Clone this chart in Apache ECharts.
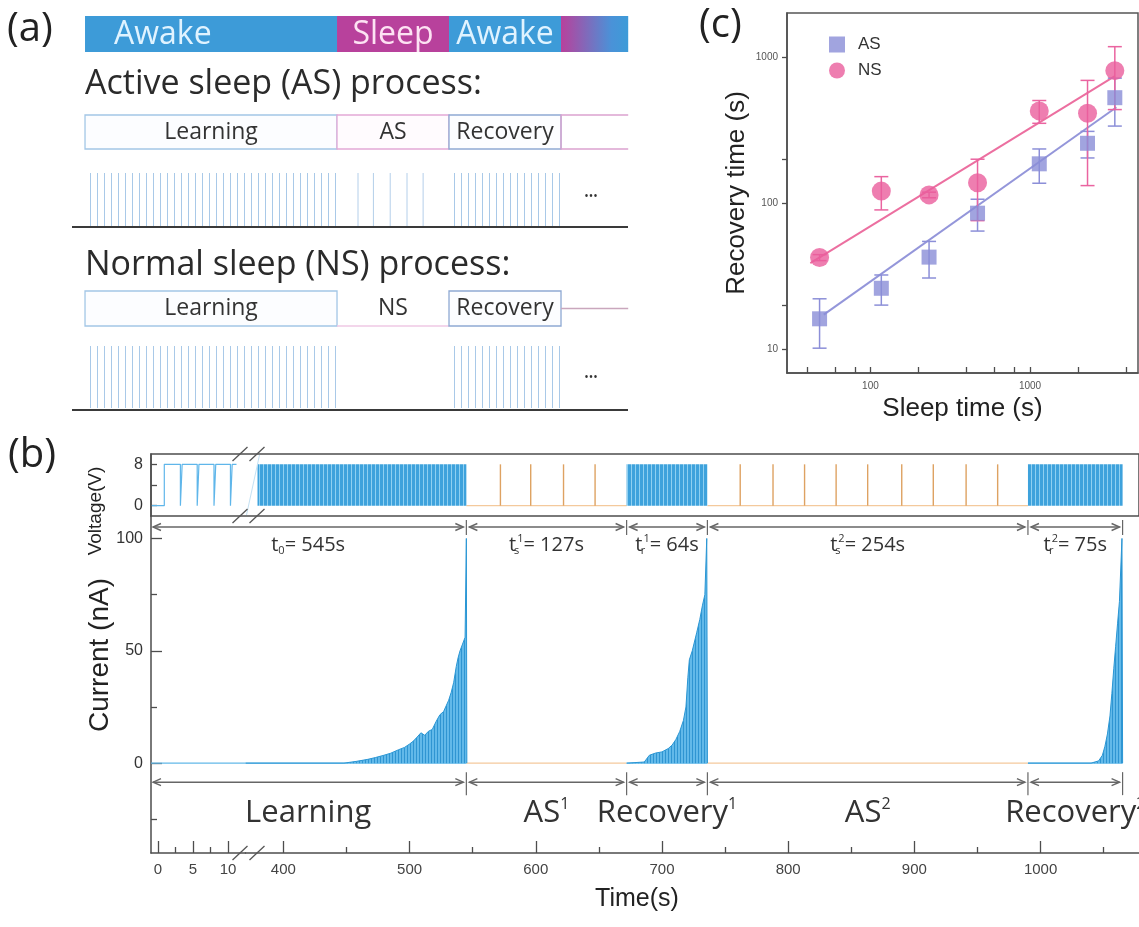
<!DOCTYPE html>
<html>
<head>
<meta charset="utf-8">
<title>Active sleep and recovery</title>
<script src="https://cdn.jsdelivr.net/npm/echarts@6.0.0/dist/echarts.min.js"></script>
<style>
  html, body { margin: 0; padding: 0; background: #ffffff; }
  #chart { width: 1139px; height: 927px; }
</style>
</head>
<body>
<div id="chart"></div>
<script>
// ---------- (a) schematic: phases measured in training-pulse periods ----------
const schemePhaseEdges = [0, 36, 52, 68, 77.6];
const schemeStates = ['Awake', 'Sleep', 'Awake', ''];
const asRowLabels = ['Learning', 'AS', 'Recovery', ''];
const nsRowLabels = ['Learning', 'NS', 'Recovery', ''];
const asRowSleepPulses = [39, 41.2, 43.6, 46, 48.3];

// ---------- (b) pulse protocol and device current ----------
const phaseBounds = [0, 545, 672, 736, 990, 1065];            // s
const phaseNames = ['Learning', 'AS', 'Recovery', 'AS', 'Recovery'];
const phaseOrder = ['', '1', '1', '2', '2'];
const phaseDurationSub = ['0', 's', 'r', 's', 'r'];
const phaseIsSleep = [false, true, false, true, false];
const earlyPulses = [[0.9, 3.2], [3.45, 5.6], [5.85, 8.0], [8.25, 10.35], [10.6, 12.5]]; // on, off (s)
const pulseVoltage = 8;                                          // V
const sleepSpikes = [572, 596, 622, 647, 762, 788, 813, 838, 863, 890, 915, 941, 966];
const learningCurrent = [
  [370, 0], [448, 0], [458, 0.8], [467, 1.7], [473, 2.5], [479, 3.4], [485, 4.4], [491, 5.9],
  [496, 7.0], [500, 8.5], [503, 9.8], [506, 11.6], [509, 13.5], [512, 12.4], [515, 14.2],
  [518, 15.0], [521, 18.5], [524, 21.5], [527, 23.0], [529, 25.5], [531, 28.0], [533, 31.5],
  [535, 36.0], [537, 43.0], [538.5, 47.0], [540, 50.0], [542, 53.0], [544, 56.0], [545, 100], [545.4, 0]
];
const recovery1Current = [
  [672, 0], [686, 0.5], [690, 3.5], [695, 4.5], [700, 5.0], [705, 6.5], [708, 8.0], [711, 10.5],
  [714, 14.0], [717, 19.0], [719, 25.0], [720.5, 38.0], [721.7, 46.0], [724, 50.0], [727.5, 58.0],
  [730, 64.0], [732, 70.0], [734, 75.0], [735.5, 100], [736, 0]
];
const recovery2Current = [
  [990, 0], [1040, 0], [1046, 1.0], [1049, 3.5], [1051, 7.5], [1053, 13.0], [1055, 21.0],
  [1056.5, 31.0], [1058, 42.0], [1059.5, 52.0], [1061, 62.0], [1062.5, 72.0], [1064.5, 100], [1065, 0]
];
const earlyTimeTicks = [0, 5, 10];
const earlyTimeMinor = [2.5, 7.5];
const timeTicks = [400, 500, 600, 700, 800, 900, 1000];
const timeMinor = [450, 550, 650, 750, 850, 950, 1050];
const voltageTicks = [0, 4, 8];
const voltageLabels = [0, 8];
const currentTicks = [-25, 0, 25, 50, 75, 100];
const currentLabels = [0, 50, 100];

// ---------- (c) recovery time versus sleep time ----------
const sleepTime = [48, 117, 233, 469, 1143, 2293, 3400];
const recoveryAS = [16.2, 26.2, 42.8, 85.5, 186, 257, 527];
const errorAS = [6, 6.1, 12, 21, 49, 53, 190];
const recoveryNS = [42.5, 121, 114, 138, 428, 412, 807];
const errorNS = [2, 31, 5, 62, 76, 280, 370];
const fitAS = [[51, 17.3], [3480, 453]];
const fitNS = [[42, 38.9], [3400, 741]];
const logTicksX = [40, 60, 80, 100, 200, 400, 600, 800, 1000, 2000, 4000];
const logLabelsX = [100, 1000];
const logTicksY = [10, 20, 100, 200, 1000];
const logLabelsY = [10, 100, 1000];

// ---------- layout and style ----------
const SANS = '"Open Sans", "Noto Sans", "DejaVu Sans", sans-serif';
const ARIAL = '"Liberation Sans", Arial, Helvetica, sans-serif';
const AXIS_COLOR = '#4d4d4d';
const TRAIN_BLUE = '#3ea2dc';
const SLEEP_ORANGE = '#dea262';
const LAYOUT = { axisLeft: 151, split: 245.5, voltTop: 454, voltHeight: 62, curTop: 516, curHeight: 337 };
const EARLY_RANGE = [-1, 12.5];
const MAIN_RANGE = [370, 1078];
const VOLT_RANGE = [-2, 10];
const CURRENT_RANGE = [-40, 110];
const SCHEME = { bar: [16, 52], asBox: [115, 149], asPulse: [173, 226], asBase: 227,
                 nsBox: [291, 326], nsPulse: [346, 408], nsBase: 410 };

function stripePattern(w, h, base, stripe, stripeW) {
  const c = document.createElement('canvas');
  c.width = w; c.height = h;
  const g = c.getContext('2d');
  if (base) { g.fillStyle = base; g.fillRect(0, 0, w, h); }
  g.fillStyle = stripe;
  g.fillRect(w - stripeW, 0, stripeW, h);
  return c;
}
const trainFill = { image: stripePattern(4, 2, TRAIN_BLUE, '#8fd0f1', 1), repeat: 'repeat' };
const schemePulseFill = { image: stripePattern(7, 2, null, '#a9c9e8', 1), repeat: 'repeat' };
const currentFill = { image: stripePattern(3, 2, '#62b9e9', '#2f95d2', 1), repeat: 'repeat' };

const chart = echarts.init(document.getElementById('chart'), null, { renderer: 'canvas' });

// derived phase tables
const allPhases = phaseNames.map((n, i) => [phaseBounds[i], phaseBounds[i + 1], phaseIsSleep[i] ? 1 : 0]);
const trainPhases = allPhases.filter(p => !p[2]);
const earlyVoltage = (() => {
  const pts = [[EARLY_RANGE[0], 0]];
  earlyPulses.forEach(([on, off]) => { pts.push([on, 0], [on, pulseVoltage], [off, pulseVoltage], [off, 0]); });
  return pts;
})();
const schemePhases = schemeStates.map((s, i) => [schemePhaseEdges[i], schemePhaseEdges[i + 1], i]);

// ---------- render helpers ----------
function clipX(cs, a, b) {
  return [Math.max(a, cs.x), Math.min(b, cs.x + cs.width)];
}
function renderTrainBlock(params, api) {
  const cs = params.coordSys;
  const a = api.coord([api.value(0), pulseVoltage]);
  const b = api.coord([api.value(1), 0]);
  const [x0, x1] = clipX(cs, a[0], b[0]);
  if (x1 <= x0) return null;
  return { type: 'rect', shape: { x: x0, y: a[1], width: x1 - x0, height: b[1] - a[1] }, style: { fill: trainFill } };
}
function renderSpike(params, api) {
  const a = api.coord([api.value(0), 0]);
  const b = api.coord([api.value(0), api.value(1)]);
  return { type: 'line', shape: { x1: a[0], y1: a[1], x2: b[0], y2: b[1] }, style: { stroke: SLEEP_ORANGE, lineWidth: 1.4 } };
}
function baselineRenderer(trainColor, sleepColor, onlySleep) {
  return function (params, api) {
    const cs = params.coordSys;
    const sleep = api.value(2) === 1;
    if (onlySleep && !sleep) return null;
    const a = api.coord([api.value(0), 0]);
    const b = api.coord([api.value(1), 0]);
    const [x0, x1] = clipX(cs, a[0], b[0]);
    if (x1 <= x0) return null;
    return { type: 'line', shape: { x1: x0, y1: a[1], x2: x1, y2: a[1] },
             style: { stroke: sleep ? sleepColor : trainColor, lineWidth: 1.3 } };
  };
}
function renderErrorBar(params, api) {
  const x = api.value(0);
  const lo = api.coord([x, api.value(1)]);
  const hi = api.coord([x, api.value(2)]);
  const cap = 7;
  const style = { stroke: api.visual('color'), lineWidth: 1.5 };
  return { type: 'group', children: [
    { type: 'line', shape: { x1: lo[0], y1: lo[1], x2: hi[0], y2: hi[1] }, style },
    { type: 'line', shape: { x1: lo[0] - cap, y1: lo[1], x2: lo[0] + cap, y2: lo[1] }, style },
    { type: 'line', shape: { x1: hi[0] - cap, y1: hi[1], x2: hi[0] + cap, y2: hi[1] }, style }
  ] };
}
function renderStateBar(params, api) {
  const i = api.value(2);
  const p0 = api.coord([api.value(0), SCHEME.bar[0]]);
  const p1 = api.coord([api.value(1), SCHEME.bar[1]]);
  const shape = { x: p0[0], y: p0[1], width: p1[0] - p0[0], height: p1[1] - p0[1] };
  const state = schemeStates[i];
  let fill;
  if (state === 'Awake') fill = '#3d9bd8';
  else if (state === 'Sleep') fill = '#b8419c';
  else fill = new echarts.graphic.LinearGradient(0, 0, 1, 0, [
    { offset: 0, color: '#b8419c' }, { offset: 0.75, color: '#4a92d8' }, { offset: 1, color: '#3d9bd8' }]);
  const children = [{ type: 'rect', shape, style: { fill } }];
  if (state) {
    children.push({ type: 'text', style: {
      text: state, x: i === 0 ? shape.x + 29 : shape.x + shape.width / 2, y: shape.y + shape.height / 2 + 1,
      align: i === 0 ? 'left' : 'center', verticalAlign: 'middle',
      fill: state === 'Sleep' ? '#fde2f3' : '#e0f3ff', fontSize: 32, fontFamily: SANS } });
  }
  return { type: 'group', children };
}
function rowRenderer(box, pulse, base, labels, isAS) {
  return function (params, api) {
    const i = api.value(2);
    const cs = params.coordSys;
    const p0 = api.coord([api.value(0), box[0]]);
    const p1 = api.coord([api.value(1), box[1]]);
    const r = { x: p0[0], y: p0[1], width: p1[0] - p0[0], height: p1[1] - p0[1] };
    const q0 = api.coord([api.value(0), pulse[0]]);
    const q1 = api.coord([api.value(1), pulse[1]]);
    const children = [];
    if (i === 0 || i === 2) {
      children.push({ type: 'rect', shape: r, style: { fill: '#fcfdff', stroke: i === 0 ? '#a3c6e6' : '#8ea9d3', lineWidth: 1.3 } });
      children.push({ type: 'rect', shape: { x: q0[0] + 2, y: q0[1], width: q1[0] - q0[0] - 2, height: q1[1] - q0[1] },
                      style: { fill: schemePulseFill } });
    } else if (i === 1) {
      if (isAS) {
        children.push({ type: 'rect', shape: r, style: { fill: '#fffbfe', stroke: '#e3a9d6', lineWidth: 1.3 } });
        asRowSleepPulses.forEach(u => {
          const a = api.coord([u, pulse[0]]), b = api.coord([u, pulse[1]]);
          children.push({ type: 'line', shape: { x1: a[0], y1: a[1], x2: b[0], y2: b[1] }, style: { stroke: '#b4cfea', lineWidth: 1 } });
        });
      } else {
        children.push({ type: 'line', shape: { x1: r.x, y1: r.y + r.height, x2: r.x + r.width, y2: r.y + r.height },
                        style: { stroke: '#efc9e4', lineWidth: 1.3 } });
      }
    } else {
      if (isAS) {
        children.push({ type: 'polyline', shape: { points: [[r.x + r.width, r.y], [r.x, r.y], [r.x, r.y + r.height], [r.x + r.width, r.y + r.height]] },
                        style: { fill: 'none', stroke: '#dca2cf', lineWidth: 1.3 } });
      } else {
        const ym = r.y + r.height / 2;
        children.push({ type: 'line', shape: { x1: r.x, y1: ym, x2: r.x + r.width, y2: ym }, style: { stroke: '#c9a7bd', lineWidth: 1.3 } });
      }
    }
    if (labels[i]) {
      children.push({ type: 'text', style: { text: labels[i], x: r.x + r.width / 2, y: r.y + r.height / 2,
        align: 'center', verticalAlign: 'middle', fill: '#333', fontSize: 23, fontFamily: SANS } });
    }
    if (i === 0) {
      const yb = api.coord([0, base])[1];
      children.push({ type: 'line', shape: { x1: cs.x, y1: yb, x2: cs.x + cs.width, y2: yb }, style: { stroke: '#3a3a3a', lineWidth: 2 } });
    }
    return { type: 'group', children };
  };
}
function currentTrace(data) {
  return { type: 'line', xAxisIndex: 3, yAxisIndex: 3, data, symbol: 'none', z: 4, silent: true,
           lineStyle: { color: '#2a96d4', width: 1 }, areaStyle: { color: currentFill, opacity: 1 } };
}

const lineStyle = { color: AXIS_COLOR, width: 1.5 };
const tickStyle = { color: AXIS_COLOR, width: 1.3 };
const plainNumber = v => String(Math.round(v * 1000) / 1000);
function timeAxis(grid, range, ticks) {
  return { gridIndex: grid, type: 'value', min: range[0], max: range[1], position: 'bottom',
    axisLine: { show: true, onZero: false, lineStyle },
    axisTick: { show: true, inside: true, length: 12, lineStyle: tickStyle, customValues: ticks },
    axisLabel: { show: true, customValues: ticks, formatter: plainNumber, fontSize: 15, color: '#444', fontFamily: ARIAL, margin: 9 },
    splitLine: { show: false } };
}
function minorAxis(grid, range, ticks, pos) {
  return { gridIndex: grid, type: 'value', min: range[0], max: range[1], position: pos,
    axisLine: { show: false, onZero: false },
    axisTick: { show: true, inside: true, length: 6, lineStyle: tickStyle, customValues: ticks },
    axisLabel: { show: false }, splitLine: { show: false } };
}

const option = {
  animation: false,
  backgroundColor: '#ffffff',
  textStyle: { fontFamily: ARIAL },
  grid: [
    { left: LAYOUT.axisLeft, top: LAYOUT.voltTop, width: LAYOUT.split - LAYOUT.axisLeft, height: LAYOUT.voltHeight, outerBoundsMode: 'none' },
    { left: LAYOUT.split, top: LAYOUT.voltTop, right: 0, height: LAYOUT.voltHeight, outerBoundsMode: 'none' },
    { left: LAYOUT.axisLeft, top: LAYOUT.curTop, width: LAYOUT.split - LAYOUT.axisLeft, height: LAYOUT.curHeight, outerBoundsMode: 'none' },
    { left: LAYOUT.split, top: LAYOUT.curTop, right: 0, height: LAYOUT.curHeight, outerBoundsMode: 'none' },
    { left: 787, top: 13, right: 1, height: 360, show: true, borderColor: '#555', borderWidth: 1.5, outerBoundsMode: 'none' },
    { left: 72, top: 0, width: 556, height: 420, outerBoundsMode: 'none' }
  ],
  xAxis: [
    { gridIndex: 0, type: 'value', min: EARLY_RANGE[0], max: EARLY_RANGE[1], show: false },
    { gridIndex: 1, type: 'value', min: MAIN_RANGE[0], max: MAIN_RANGE[1], show: false },
    timeAxis(2, EARLY_RANGE, earlyTimeTicks),
    timeAxis(3, MAIN_RANGE, timeTicks),
    minorAxis(2, EARLY_RANGE, earlyTimeMinor, 'bottom'),
    minorAxis(3, MAIN_RANGE, timeMinor, 'bottom'),
    { gridIndex: 4, type: 'log', logBase: 10, min: 30, max: 4750, position: 'bottom',
      axisLine: { show: true, onZero: false, lineStyle },
      axisTick: { show: true, inside: true, length: 6, lineStyle: tickStyle, customValues: logTicksX },
      axisLabel: { show: true, customValues: logLabelsX, formatter: v => String(Math.round(v)), fontSize: 10, color: '#555', margin: 8 },
      splitLine: { show: false }, minorTick: { show: false },
      name: 'Sleep time (s)', nameLocation: 'middle', nameGap: 23,
      nameTextStyle: { fontSize: 26, color: '#222', fontFamily: ARIAL } },
    { gridIndex: 5, type: 'value', min: -1.86, max: 77.57, show: false }
  ],
  yAxis: [
    { gridIndex: 0, type: 'value', min: VOLT_RANGE[0], max: VOLT_RANGE[1], position: 'left',
      axisLine: { show: true, onZero: false, lineStyle },
      axisTick: { show: true, inside: true, length: 6, lineStyle: tickStyle, customValues: voltageTicks },
      axisLabel: { show: true, customValues: voltageLabels, fontSize: 16, color: '#333', fontFamily: ARIAL, margin: 8 },
      splitLine: { show: false } },
    { gridIndex: 1, type: 'value', min: VOLT_RANGE[0], max: VOLT_RANGE[1], show: false },
    { gridIndex: 2, type: 'value', min: CURRENT_RANGE[0], max: CURRENT_RANGE[1], position: 'left',
      axisLine: { show: true, onZero: false, lineStyle },
      axisTick: { show: true, inside: true, length: 11, lineStyle: tickStyle, customValues: currentLabels },
      axisLabel: { show: true, customValues: currentLabels, fontSize: 16, color: '#333', fontFamily: ARIAL, margin: 8 },
      splitLine: { show: false } },
    { gridIndex: 3, type: 'value', min: CURRENT_RANGE[0], max: CURRENT_RANGE[1], show: false },
    { gridIndex: 4, type: 'log', logBase: 10, min: 6.9, max: 2000, position: 'left',
      axisLine: { show: true, onZero: false, lineStyle },
      axisTick: { show: true, inside: false, length: 5, lineStyle: tickStyle, customValues: logTicksY },
      axisLabel: { show: true, customValues: logLabelsY, formatter: v => String(Math.round(v)), fontSize: 10, color: '#555', margin: 9 },
      splitLine: { show: false }, minorTick: { show: false },
      name: 'Recovery time (s)', nameLocation: 'middle', nameGap: 37, nameRotate: 90,
      nameTextStyle: { fontSize: 26, color: '#222', fontFamily: ARIAL } },
    { gridIndex: 5, type: 'value', min: 0, max: 420, inverse: true, show: false },
    minorAxis(2, CURRENT_RANGE, currentTicks.filter(v => currentLabels.indexOf(v) < 0), 'left')
  ],
  legend: {
    data: ['AS', 'NS'], orient: 'vertical', left: 824, top: 31, itemWidth: 16, itemHeight: 16, itemGap: 9,
    textStyle: { fontSize: 17, color: '#333', fontFamily: ARIAL, padding: [0, 0, 0, 8] }, selectedMode: false
  },
  series: [
    // (b) voltage
    { type: 'line', xAxisIndex: 0, yAxisIndex: 0, data: earlyVoltage, symbol: 'none', silent: true,
      lineStyle: { color: '#5fb6ea', width: 1.2 } },
    { type: 'custom', xAxisIndex: 1, yAxisIndex: 1, data: allPhases, renderItem: baselineRenderer(TRAIN_BLUE, '#f4c99c', true), silent: true },
    { type: 'custom', xAxisIndex: 1, yAxisIndex: 1, data: sleepSpikes.map(t => [t, pulseVoltage]), renderItem: renderSpike, silent: true },
    { type: 'custom', xAxisIndex: 1, yAxisIndex: 1, data: trainPhases, renderItem: renderTrainBlock, silent: true },
    // (b) current
    { type: 'line', xAxisIndex: 2, yAxisIndex: 2, data: [[EARLY_RANGE[0], 0], [EARLY_RANGE[1], 0]], symbol: 'none', silent: true,
      lineStyle: { color: '#62b8e8', width: 1.3 } },
    { type: 'custom', xAxisIndex: 3, yAxisIndex: 3, data: allPhases, renderItem: baselineRenderer('#62b8e8', '#f4c99c', false), silent: true },
    currentTrace(learningCurrent),
    currentTrace(recovery1Current),
    currentTrace(recovery2Current),
    // (c)
    { type: 'line', xAxisIndex: 6, yAxisIndex: 4, data: fitAS, symbol: 'none', silent: true, z: 2,
      lineStyle: { color: '#9496da', width: 2 } },
    { type: 'line', xAxisIndex: 6, yAxisIndex: 4, data: fitNS, symbol: 'none', silent: true, z: 2,
      lineStyle: { color: '#ec6fa0', width: 2 } },
    { type: 'custom', name: 'AS error', xAxisIndex: 6, yAxisIndex: 4, z: 3, silent: true,
      data: sleepTime.map((t, i) => [t, recoveryAS[i] - errorAS[i], recoveryAS[i] + errorAS[i]]),
      renderItem: renderErrorBar, itemStyle: { color: '#8c8fd8' } },
    { type: 'custom', name: 'NS error', xAxisIndex: 6, yAxisIndex: 4, z: 3, silent: true,
      data: sleepTime.map((t, i) => [t, recoveryNS[i] - errorNS[i], recoveryNS[i] + errorNS[i]]),
      renderItem: renderErrorBar, itemStyle: { color: '#ea64a0' } },
    { type: 'scatter', name: 'AS', xAxisIndex: 6, yAxisIndex: 4, z: 4, silent: true,
      data: sleepTime.map((t, i) => [t, recoveryAS[i]]), symbol: 'rect', symbolSize: 15,
      itemStyle: { color: '#8a8dd7' } },
    { type: 'scatter', name: 'NS', xAxisIndex: 6, yAxisIndex: 4, z: 5, silent: true,
      data: sleepTime.map((t, i) => [t, recoveryNS[i]]), symbol: 'circle', symbolSize: 19,
      itemStyle: { color: '#ea5e9c' } },
    // (a)
    { type: 'custom', xAxisIndex: 7, yAxisIndex: 5, data: schemePhases, renderItem: renderStateBar, silent: true },
    { type: 'custom', xAxisIndex: 7, yAxisIndex: 5, data: schemePhases,
      renderItem: rowRenderer(SCHEME.asBox, SCHEME.asPulse, SCHEME.asBase, asRowLabels, true), silent: true },
    { type: 'custom', xAxisIndex: 7, yAxisIndex: 5, data: schemePhases,
      renderItem: rowRenderer(SCHEME.nsBox, SCHEME.nsPulse, SCHEME.nsBase, nsRowLabels, false), silent: true }
  ]
};
chart.setOption(option);

// ---------- annotations placed through the axes ----------
function buildGraphics() {
  const els = [];
  const text = (t, x, y, size, extra) => Object.assign({ type: 'text', x, y, z: 70,
    style: Object.assign({ text: t, fontSize: size, fontFamily: SANS, fill: '#222' }, extra || {}) });

  // panel letters and headings
  els.push(text('(a)', 7, 10, 40));
  els.push(text('(b)', 8, 436, 40));
  els.push(text('(c)', 699, 6, 40));
  els.push(text('Active sleep (AS) process:', 85, 84, 34, { verticalAlign: 'middle', fill: '#2b2b2b' }));
  els.push(text('Normal sleep (NS) process:', 85, 265, 34, { verticalAlign: 'middle', fill: '#2b2b2b' }));
  els.push(text('•••', 591, 197, 12, { align: 'center', verticalAlign: 'middle', fill: '#333' }));
  els.push(text('•••', 591, 378, 12, { align: 'center', verticalAlign: 'middle', fill: '#333' }));

  // axis titles of (b)
  els.push({ type: 'text', x: 96, y: 511, rotation: Math.PI / 2, z: 70,
    style: { text: 'Voltage(V)', fontSize: 19, fontFamily: ARIAL, fill: '#222', align: 'center', verticalAlign: 'middle' } });
  els.push({ type: 'text', x: 100, y: 655, rotation: Math.PI / 2, z: 70,
    style: { text: 'Current (nA)', fontSize: 28, fontFamily: ARIAL, fill: '#222', align: 'center', verticalAlign: 'middle' } });
  els.push({ type: 'text', x: 637, y: 899, z: 70,
    style: { text: 'Time(s)', fontSize: 25, fontFamily: ARIAL, fill: '#222', align: 'center', verticalAlign: 'middle' } });

  // voltage frame
  const frameRight = chart.getWidth();
  els.push({ type: 'rect', z: 50, shape: { x: LAYOUT.axisLeft, y: LAYOUT.voltTop, width: frameRight - LAYOUT.axisLeft, height: LAYOUT.voltHeight },
    style: { fill: 'none', stroke: AXIS_COLOR, lineWidth: 1.5 } });

  // axis break
  const bx = LAYOUT.split;
  els.push({ type: 'rect', z: 45, shape: { x: bx - 9, y: LAYOUT.voltTop + 1, width: 21, height: LAYOUT.voltHeight - 2 }, style: { fill: '#fff' } });
  els.push({ type: 'line', z: 46, shape: { x1: bx + 14, y1: LAYOUT.voltTop + 1, x2: bx + 1, y2: LAYOUT.voltTop + LAYOUT.voltHeight - 1 },
    style: { stroke: '#c4e1f3', lineWidth: 1 } });
  const axisY = LAYOUT.curTop + LAYOUT.curHeight;
  [LAYOUT.voltTop, LAYOUT.voltTop + LAYOUT.voltHeight, axisY].forEach(y => {
    [-13, 4].forEach(dx => {
      els.push({ type: 'line', z: 60, shape: { x1: bx + dx, y1: y + 7, x2: bx + dx + 15, y2: y - 7 },
        style: { stroke: '#555', lineWidth: 1.3 } });
    });
  });

  // dimension lines with phase durations and names
  const xOf = t => t <= EARLY_RANGE[1] ? chart.convertToPixel({ xAxisIndex: 2 }, t) : chart.convertToPixel({ xAxisIndex: 3 }, t);
  const zeroY = chart.convertToPixel({ yAxisIndex: 2 }, 0);
  const rows = [
    { y: LAYOUT.curTop + 11, labelY: LAYOUT.curTop + 29, up: 7, down: 8, kind: 'duration' },
    { y: zeroY + 19, labelY: zeroY + 50, up: 10, down: 13, kind: 'name' }
  ];
  const stroke = '#666';
  rows.forEach(row => {
    const y = row.y;
    for (let i = 0; i < phaseNames.length; i++) {
      const x0 = i === 0 ? LAYOUT.axisLeft + 2 : xOf(phaseBounds[i]) + 3;
      const xb = xOf(phaseBounds[i + 1]);
      const x1 = xb - 3;
      els.push({ type: 'line', z: 60, shape: { x1: x0, y1: y, x2: x1, y2: y }, style: { stroke, lineWidth: 1.5 } });
      els.push({ type: 'polyline', z: 60, shape: { points: [[x0 + 8, y - 3.5], [x0, y], [x0 + 8, y + 3.5]] }, style: { stroke, lineWidth: 1.4, fill: 'none' } });
      els.push({ type: 'polyline', z: 60, shape: { points: [[x1 - 8, y - 3.5], [x1, y], [x1 - 8, y + 3.5]] }, style: { stroke, lineWidth: 1.4, fill: 'none' } });
      els.push({ type: 'line', z: 60, shape: { x1: xb, y1: y - row.up, x2: xb, y2: y + row.down }, style: { stroke, lineWidth: 1.2 } });
      const xc = (x0 + x1) / 2;
      let t, rich;
      if (row.kind === 'duration') {
        const dur = phaseBounds[i + 1] - phaseBounds[i];
        const sup = phaseOrder[i];
        t = '{t|t}{sub|' + phaseDurationSub[i] + '}' + (sup ? '{sup|' + sup + '}' : '') + '{v|= ' + dur + 's}';
        rich = {
          t: { fontSize: 20, fontFamily: SANS, fill: '#333' },
          sub: { fontSize: 11, fontFamily: SANS, fill: '#333', padding: [12, 0, 0, 0], width: sup ? 1 : undefined },
          sup: { fontSize: 11, fontFamily: SANS, fill: '#333', padding: [0, 0, 13, 0] },
          v: { fontSize: 20, fontFamily: SANS, fill: '#333' }
        };
      } else {
        const sup = phaseOrder[i];
        t = '{n|' + phaseNames[i] + '}' + (sup ? '{sup|' + sup + '}' : '');
        rich = {
          n: { fontSize: 31, fontFamily: SANS, fill: '#333' },
          sup: { fontSize: 16, fontFamily: SANS, fill: '#333', padding: [0, 0, 17, 0] }
        };
      }
      els.push({ type: 'text', z: 70, x: xc, y: row.labelY,
        style: { text: t, rich, align: 'center', verticalAlign: 'middle' } });
    }
  });
  return els;
}
chart.setOption({ graphic: { elements: buildGraphics() } });
</script>
</body>
</html>
